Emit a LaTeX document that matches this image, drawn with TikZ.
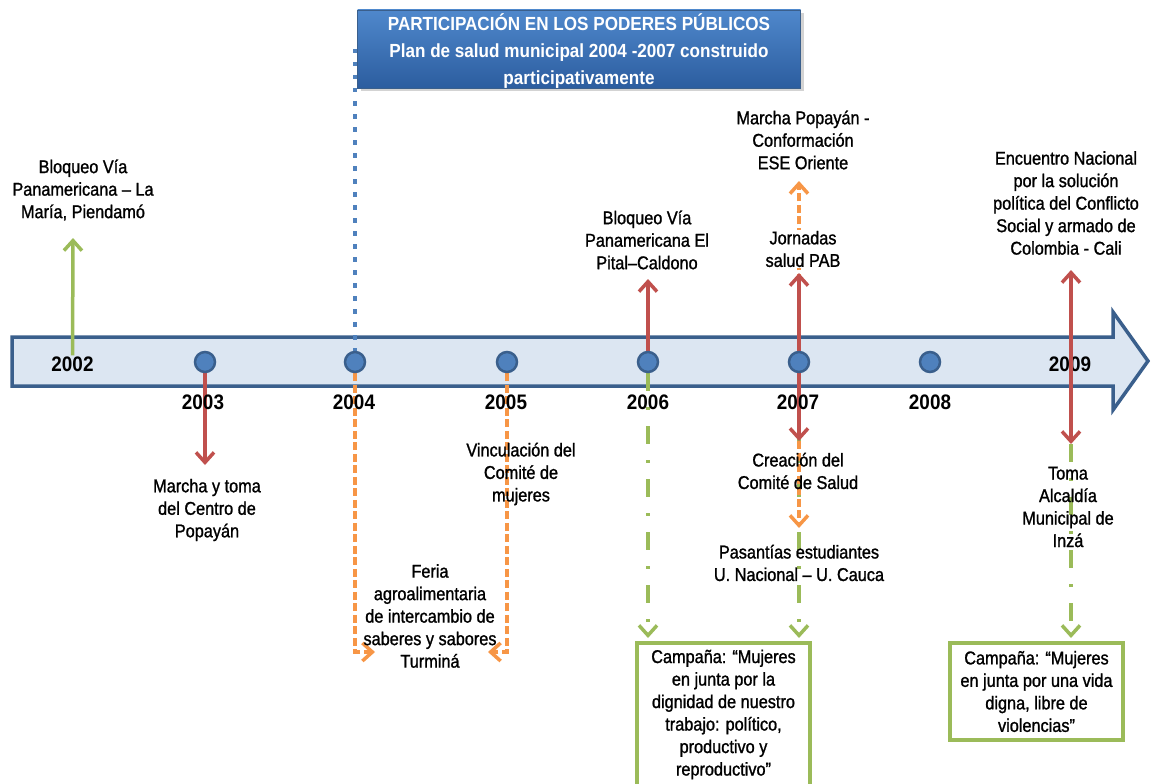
\documentclass[tikz,border=0pt]{standalone}
\usepackage{fontspec}
\setmainfont{Liberation Sans}
\newfontfamily\evfont{Liberation Sans}[FakeStretch=0.88, FakeBold=1.2]
\newfontfamily\yrfont{Liberation Sans}[FakeStretch=0.9]
\usetikzlibrary{arrows.meta,shadows}

\definecolor{barfill}{HTML}{DCE6F2}
\definecolor{barline}{HTML}{3A5F8C}
\definecolor{dotfill}{HTML}{4F81BD}
\definecolor{redline}{HTML}{C0504D}
\definecolor{greenline}{HTML}{9BBB59}
\definecolor{orangeline}{HTML}{F79646}
\definecolor{bannertop}{HTML}{4F88CC}
\definecolor{bannerbot}{HTML}{2C5D9F}

\pgfdeclarelayer{back}
\pgfdeclarelayer{lines}
\pgfdeclarelayer{front}
\pgfsetlayers{back,lines,main,front}

\tikzset{
  evtext/.style={font=\evfont\fontsize{18.5}{22.5}\selectfont, align=center, inner sep=1pt, text=black},
  yearlab/.style={font=\yrfont\bfseries\fontsize{21}{22}\selectfont, inner sep=1pt, text=black},
  yeardot/.style={circle, fill=dotfill, draw=barline, line width=2.5pt, minimum size=20pt, inner sep=0pt},
  barb/.style={-{Straight Barb[length=10pt,width=18pt]}},
  redarrow/.style={barb, draw=redline, line width=3.5pt},
  reddouble/.style={{Straight Barb[length=10pt,width=18pt]}-{Straight Barb[length=10pt,width=18pt]}, draw=redline, line width=3.5pt},
  greenarrow/.style={barb, draw=greenline, line width=3.5pt},
  greendashdot/.style={barb, draw=greenline, line width=3.5pt, dash pattern=on 18pt off 16pt on 3pt off 16pt},
  orangedash/.style={barb, draw=orangeline, line width=3.5pt, dash pattern=on 8pt off 3.5pt},
  bluedots/.style={draw=dotfill, line width=4.5pt, dash pattern=on 4.5pt off 8.5pt},
  banner/.style={draw=barline, line width=0.8pt, top color=bannertop, bottom color=bannerbot,
    minimum width=443pt, minimum height=78pt, inner sep=0pt,
    drop shadow={opacity=0.35, shadow xshift=3pt, shadow yshift=-3pt}},
  bannertext/.style={text=white, font=\yrfont\bfseries\fontsize{19}{27}\selectfont, align=center, inner sep=0pt},
  campbox/.style={evtext, draw=greenline, line width=4pt, fill=white, inner sep=0pt},
}

\begin{document}
\begin{tikzpicture}[x=1pt, y=-1pt]
\useasboundingbox (0,0) rectangle (1152,784);
\clip (0,0) rectangle (1152,784);

% timeline bar with arrow head
\begin{pgfonlayer}{back}
\path[draw=barline, fill=barfill, line width=3.5pt, line join=miter]
  (12,337) -- (1113,337) -- (1113,312) -- (1148,361) -- (1113,410) -- (1113,386) -- (12,386) -- cycle;
\end{pgfonlayer}

% year markers
\node[yeardot] (d2003) at (205,362) {};
\node[yeardot] (d2004) at (355,362) {};
\node[yeardot] (d2005) at (507,362) {};
\node[yeardot] (d2006) at (648,362) {};
\node[yeardot] (d2007) at (799,362) {};
\node[yeardot] (d2008) at (930,362) {};

\node[yearlab] (y2002) at (72.5,364) {2002};
\node[yearlab] (y2003) at (203,402) {2003};
\node[yearlab] (y2004) at (354,402) {2004};
\node[yearlab] (y2005) at (506,402) {2005};
\node[yearlab] (y2006) at (648,402) {2006};
\node[yearlab] (y2007) at (798,402) {2007};
\node[yearlab] (y2008) at (930,402) {2008};
\node[yearlab] (y2009) at (1070,364) {2009};

% banner
\node[banner] (banner) at (579,49) {};
\node[bannertext] (bannertxt) at (579,51) {PARTICIPACIÓN EN LOS PODERES PÚBLICOS\\Plan de salud municipal 2004 -2007 construido\\participativamente};

% event texts
\node[evtext] (l2002) at (83,190) {Bloqueo Vía\\Panamericana – La\\María, Piendamó};
\node[evtext] (l2003) at (207,510) {Marcha y toma\\del Centro de\\Popayán};
\node[evtext] (l2005) at (521,474) {Vinculación del\\Comité de\\mujeres};
\node[evtext] (lferia) at (430,616) {Feria\\agroalimentaria\\de intercambio de\\saberes y sabores\\Turminá};
\node[evtext] (l2006) at (647,240) {Bloqueo Vía\\Panamericana El\\Pital–Caldono};
\node[evtext] (l2007a) at (803,140) {Marcha Popayán -\\Conformación\\ESE Oriente};
\node[evtext, fill=white] (l2007b) at (803,249) {Jornadas\\salud PAB};
\node[evtext] (l2007c) at (798,471) {Creación del\\Comité de Salud};
\node[evtext] (l2007d) at (799,563) {Pasantías estudiantes\\U. Nacional – U. Cauca};
\node[evtext] (l2009a) at (1066,203) {Encuentro Nacional\\por la solución\\política del Conflicto\\Social y armado de\\Colombia - Cali};
\node[evtext] (l2009b) at (1068,507) {Toma\\Alcaldía\\Municipal de\\Inzá};

% campaign boxes
\node[campbox, minimum width=173pt, minimum height=143pt] (box1) at (723.5,714.5)
  {Campaña: “Mujeres\\en junta por la\\dignidad de nuestro\\trabajo: político,\\productivo y\\reproductivo”};
\node[campbox, minimum width=173pt, minimum height=97pt] (box2) at (1036.5,691.5)
  {Campaña: “Mujeres\\en junta por una vida\\digna, libre de\\violencias”};

% arrow end points
\coordinate (t2002) at (73,238);
\coordinate (t2003) at (205,465);
\coordinate (t2004) at (375,652);
\coordinate (t2005) at (488,652);
\coordinate (t2006up) at (648,279);
\coordinate (t2006dn) at (648,638);
\coordinate (t2007up) at (799,273);
\coordinate (t2007top) at (799,181);
\coordinate (t2007dn) at (799,441);
\coordinate (t2007mid) at (799,528);
\coordinate (t2007g) at (799,638);
\coordinate (t2009up) at (1071,270);
\coordinate (t2009dn) at (1071,444);
\coordinate (t2009g) at (1071,638);

\begin{pgfonlayer}{lines}
  % dotted guide from the banner
  \draw[bluedots] (d2004 |- banner.west) -- (d2004);
  % green connectors
  \draw[greenarrow] (y2002.north) -- (t2002);
  \draw[greendashdot] (d2006) -- (t2006dn);
  \draw[greendashdot] (d2007) -- (t2007g);
  \draw[greendashdot] (t2009dn) -- (t2009g);
  % orange connectors
  \draw[orangedash] (d2004) |- (t2004);
  \draw[orangedash] (d2005) |- (t2005);
  \draw[orangedash] (d2007) -- (t2007top);
  \draw[orangedash] (t2007dn) -- (t2007mid);
  % red connectors
  \draw[redarrow] (d2003) -- (t2003);
  \draw[redarrow] (d2006) -- (t2006up);
  \draw[redarrow] (d2007) -- (t2007up);
  \draw[redarrow] (d2007) -- (t2007dn);
\end{pgfonlayer}

\begin{pgfonlayer}{front}
  \draw[reddouble] (t2009up) -- (t2009dn);
\end{pgfonlayer}
\end{tikzpicture}
\end{document}
